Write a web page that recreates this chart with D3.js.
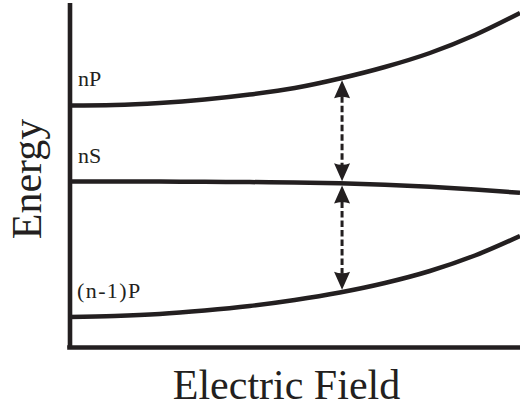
<!DOCTYPE html>
<html>
<head>
<meta charset="utf-8">
<script src="https://cdn.jsdelivr.net/npm/d3@7"></script>
<style>
  html, body { margin: 0; padding: 0; background: #fff; }
  svg { display: block; }
  text { font-family: "Liberation Serif", "Times New Roman", serif; fill: #231f20; }
</style>
</head>
<body>
<svg id="chart" width="520" height="406"></svg>
<script>
// Electric field samples (arbitrary units, 0 = zero field)
const field = [0, 0.1, 0.2, 0.3, 0.4, 0.5, 0.6, 0.7, 0.8, 0.9, 1.0];

// Level energies (arbitrary units) at each field sample
const energyNP  = [242, 242.5, 244.5, 248, 253, 259.5, 269, 280.5, 294.5, 312.5, 334.5];
const energyNS  = [166, 166, 165.9, 165.7, 165.4, 165.1, 164.2, 162.7, 160.7, 157.9, 154.7];
const energyNm1P = [30.5, 31.5, 33.5, 37, 41.5, 47.5, 55, 64.5, 76.5, 92, 111.5];

const levelNames = ["nP", "nS", "(n-1)P"];
const levelSeries = [energyNP, energyNS, energyNm1P];

// Field at which the level spacings are marked
const spacingField = 0.605;

const axisTitles = { x: "Electric Field", y: "Energy" };

const ink = "#231f20";
const svg = d3.select("#chart");

const margin = { left: 69.5, right: 0, top: 2.5, bottom: 58.5 };
const W = 520, H = 406;

const x = d3.scaleLinear().domain([0, 1]).range([margin.left, W - margin.right]);
const y = d3.scaleLinear().domain([0, 345]).range([H - margin.bottom, margin.top]);

// Axes: bare lines without ticks
const xAxis = svg.append("g")
  .attr("transform", `translate(0,${y(0)})`)
  .call(d3.axisBottom(x).tickValues([]).tickSizeOuter(0));
xAxis.select(".domain")
  .attr("stroke", ink).attr("stroke-width", 4.6)
  .attr("d", `M${margin.left - 2.3},0H${W}`);

const yAxis = svg.append("g")
  .attr("transform", `translate(${margin.left},0)`)
  .call(d3.axisLeft(y).tickValues([]).tickSizeOuter(0));
yAxis.select(".domain").attr("stroke", ink).attr("stroke-width", 4.6);

// Energy level curves
const line = d3.line()
  .x((d, i) => x(field[i]))
  .y(d => y(d))
  .curve(d3.curveMonotoneX);

svg.append("g").selectAll("path.level")
  .data(levelSeries)
  .join("path")
  .attr("class", "level")
  .attr("d", line)
  .attr("fill", "none")
  .attr("stroke", ink)
  .attr("stroke-width", 4.5)
  .attr("stroke-linecap", "butt");

// Level labels
const labelPos = [
  { dx: 78, base: 86 },
  { dx: 78, base: 162.5 },
  { dx: 77, base: 297.5 }
];
svg.append("g").selectAll("text.lbl")
  .data(levelNames)
  .join("text")
  .attr("class", "lbl")
  .attr("x", (d, i) => labelPos[i].dx)
  .attr("y", (d, i) => labelPos[i].base)
  .attr("font-size", 22)
  .attr("letter-spacing", (d, i) => i === 2 ? 1.4 : 0)
  .text(d => d);

// Energy of a level at a given field (linear between samples)
function energyAt(series, f) {
  const interp = d3.scaleLinear().domain(field).range(series);
  return interp(f);
}

// Double-headed dashed arrows marking the spacings
const ax = x(spacingField);
const gap = 2.2; // half the curve stroke
const headLen = 18, headHalf = 8, notch = 3;

function head(tipY, dir) {
  // dir = -1 points up, +1 points down
  const baseY = tipY - dir * headLen;
  const midY = baseY + dir * notch;
  return `M${ax},${tipY}L${ax - headHalf},${baseY}Q${ax},${midY} ${ax + headHalf},${baseY}Z`;
}

const spans = [
  [energyAt(energyNP, spacingField), energyAt(energyNS, spacingField)],
  [energyAt(energyNS, spacingField), energyAt(energyNm1P, spacingField)]
];

const arrows = svg.append("g");
spans.forEach(([eTop, eBot]) => {
  const top = y(eTop) + gap;
  const bot = y(eBot) - gap;
  arrows.append("line")
    .attr("x1", ax).attr("x2", ax)
    .attr("y1", top + headLen - 2).attr("y2", bot - headLen + 2)
    .attr("stroke", ink).attr("stroke-width", 3)
    .attr("stroke-dasharray", "6.5,3");
  arrows.append("path").attr("d", head(top, -1)).attr("fill", ink);
  arrows.append("path").attr("d", head(bot, 1)).attr("fill", ink);
});

// Axis titles
svg.append("text")
  .attr("x", 286.5).attr("y", 398.5)
  .attr("text-anchor", "middle")
  .attr("font-size", 42)
  .text(axisTitles.x);

svg.append("text")
  .attr("transform", "translate(41,179) rotate(-90)")
  .attr("text-anchor", "middle")
  .attr("font-size", 42)
  .text(axisTitles.y);
</script>
</body>
</html>
